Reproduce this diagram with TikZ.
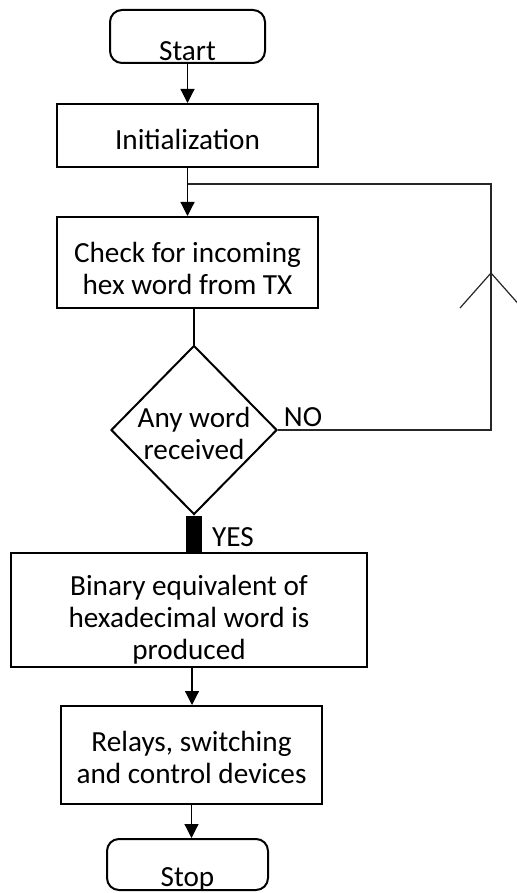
\documentclass[tikz,border=0pt]{standalone}
\usepackage{fontspec}
\setmainfont{Carlito}
\usetikzlibrary{arrows.meta,shapes.geometric}
\begin{document}
\begin{tikzpicture}[x=0.5pt,y=-0.5pt,
  every node/.style={font=\fontsize{14.6}{16}\selectfont},
  box/.style={draw,line width=1pt,rectangle,inner sep=0pt},
  term/.style={draw,line width=1pt,rectangle,rounded corners=6pt,inner sep=0pt},
  dec/.style={draw,line width=1pt,diamond,inner sep=0pt,minimum width=83pt,minimum height=84.5pt},
  txt/.style={align=center,inner sep=0pt},
  conn/.style={line width=0.6pt},
  arr/.style={conn,-{Triangle[length=7pt,width=7pt]}},
  fbline/.style={line width=0.6pt,black!85}]
\useasboundingbox (0,0) rectangle (516,893);
\node[term,minimum width=77.5pt,minimum height=26.5pt,
  label={[txt,anchor=base,yshift=1.5pt]south:Start}] (start) at (187.5,36.5) {};
\node[box,minimum width=130.5pt,minimum height=31.5pt,
  label={[txt,yshift=-2pt]center:Initialization}] (init) at (187.5,135.5) {};
\node[box,minimum width=130.5pt,minimum height=45.5pt,
  label={[txt,yshift=-2.75pt]center:{Check for incoming\\hex word from TX}}] (check) at (187.5,262.5) {};
\node[dec,label={[txt,yshift=-1.5pt]center:{Any word\\received}}] (dia) at (194,430) {};
\node[box,minimum width=178pt,minimum height=57pt,
  label={[txt,yshift=-5pt]center:{Binary equivalent of\\hexadecimal word is\\produced}}] (bin) at (189,610) {};
\node[box,minimum width=130.5pt,minimum height=49pt,
  label={[txt,yshift=-1pt]center:{Relays, switching\\and control devices}}] (rel) at (191.5,755) {};
\node[term,minimum width=80.5pt,minimum height=25.5pt,
  label={[txt,anchor=base,yshift=2.5pt]south:Stop}] (stop) at (187.5,864.5) {};
\node[txt] (yes) at (233,537) {YES};
\node[txt] (no) at (303,417) {NO};
\coordinate (fb) at (491,184);
\coordinate (apex) at (491,273);
\coordinate (legl) at (460,308);
\coordinate (legr) at (522,308);
% connectors
\draw[arr] (start.south) -- (init.north);
\draw[arr] (init.south) -- (check.north);
\draw[conn] (dia.north |- check.south) -- (dia.north);
\fill ([xshift=-4pt]dia.south) rectangle ([xshift=4pt]dia.south |- bin.north);
\draw[arr] ([xshift=1.5pt]bin.south) -- ([xshift=1.5pt]bin.south |- rel.north);
\draw[arr] (rel.south) -- (rel.south |- stop.north);
\draw[fbline] (dia.east) -- (dia.east -| fb) -- (fb) -- (init.south |- fb);
\draw[fbline] (legl) -- (apex) -- (legr);
\end{tikzpicture}
\end{document}
